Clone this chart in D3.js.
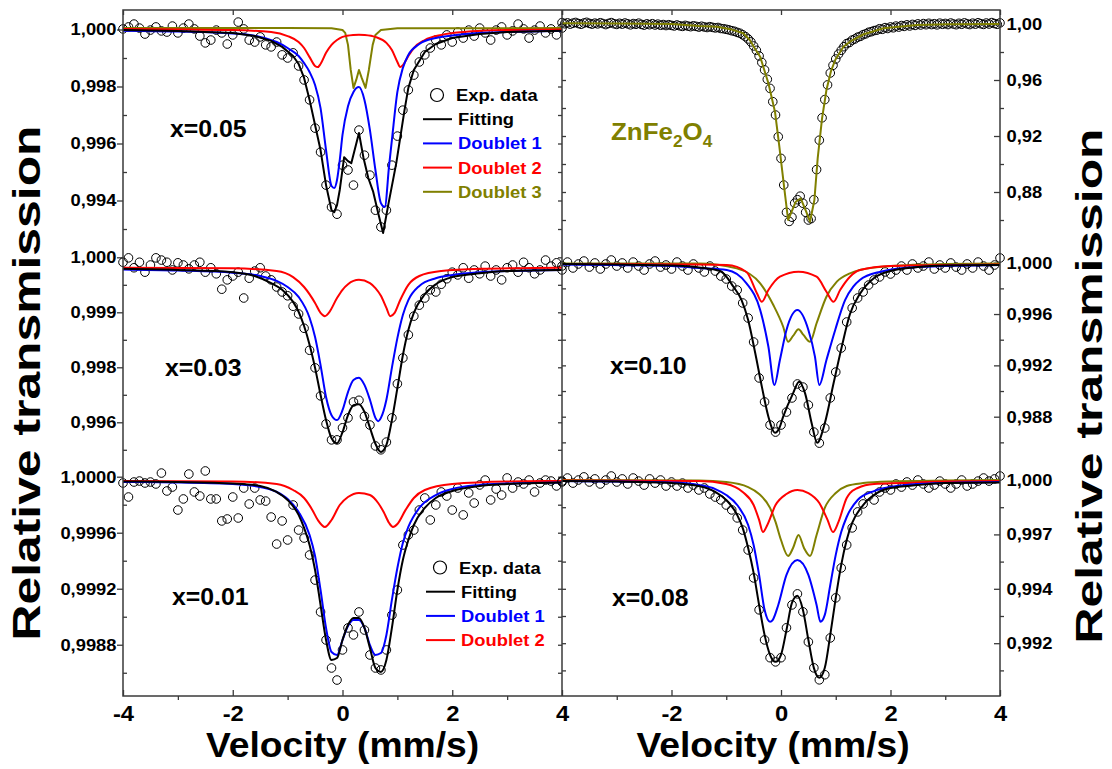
<!doctype html>
<html>
<head>
<meta charset="utf-8">
<title>Mossbauer spectra</title>
<script src="https://cdnjs.cloudflare.com/ajax/libs/d3/7.8.5/d3.min.js"></script>
<style>
  body { margin: 0; background: #fff; }
  text { font-family: "Liberation Sans", Arial, sans-serif; font-weight: bold; }
</style>
</head>
<body>
<div id="chart"></div>
<script>
// velocity channels of the measured points (mm/s)
const velocity = d3.range(-40, 41).map(i => i / 10);
const velocityFine = d3.range(-80, 81).map(i => i / 20); // ZnFe2O4 was measured on a finer grid

// ---- x = 0.05 (top left) ----
const x05Exp = [1.00002,1.00009,1.00019,1.00005,0.99984,0.99998,1.00009,0.99995,0.99991,1.00012,
  0.99988,1.00005,1.00019,1.00002,0.99977,0.99953,0.99963,0.99998,0.99988,0.99949,
  0.99981,1.00026,1.00002,0.99963,0.99956,0.99974,0.99946,0.99939,0.99956,0.99911,
  0.999,0.99918,0.99872,0.99823,0.99753,0.99654,0.9957,0.99454,0.99377,0.99352,
  0.99524,0.99507,0.99454,0.99647,0.99559,0.99489,0.99366,0.99307,0.99366,0.99524,
  0.99626,0.99717,0.99788,0.9984,0.99886,0.99911,0.99935,0.99963,0.99946,0.99981,
  0.99956,0.99991,0.9997,0.99998,0.99977,1.00005,0.99988,0.99963,0.99998,1.00009,
  0.99981,0.99995,1.00019,1.00002,0.9997,0.99998,1.00012,0.99988,1.00002,0.99981,
  1.00005];
const x05Fit = [[-4,0.99998],[-3,0.99995],[-2,0.99988],[-1.6,0.99977],[-1.3,0.9996],[-1.1,0.99939],[-0.9,0.99907],[-0.8,0.99879],[-0.7,0.9983],[-0.6,0.99753],[-0.5,0.99665],[-0.4,0.99577],[-0.3,0.99454],[-0.2,0.99366],[-0.15,0.99359],[-0.1,0.99384],[-0.05,0.99437],[0.03,0.99552],[0.1,0.99538],[0.16,0.99531],[0.3,0.99637],[0.38,0.99552],[0.47,0.99479],[0.56,0.9943],[0.65,0.99356],[0.74,0.99286],[0.84,0.99391],[0.98,0.99531],[1.13,0.99717],[1.2,0.99795],[1.3,0.99858],[1.5,0.99921],[1.7,0.99949],[2,0.9997],[2.5,0.99984],[3,0.99991],[4,0.99996]];
const x05D1 = [[-4,0.99996],[-3,0.99993],[-2,0.99986],[-1.5,0.99974],[-1.2,0.99956],[-1,0.99935],[-0.8,0.99907],[-0.7,0.99882],[-0.6,0.99851],[-0.5,0.99805],[-0.4,0.99724],[-0.3,0.99577],[-0.2,0.99451],[-0.15,0.99444],[-0.1,0.99472],[-0.05,0.99542],[0,0.9963],[0.1,0.99731],[0.2,0.99781],[0.3,0.99798],[0.4,0.99753],[0.5,0.99647],[0.6,0.99507],[0.7,0.99391],[0.77,0.99377],[0.85,0.99524],[0.9,0.99612],[1,0.99781],[1.1,0.99865],[1.2,0.99911],[1.4,0.99949],[1.7,0.9997],[2,0.99979],[2.5,0.99988],[3,0.99991],[4,0.99995]];
const x05D2 = [[-4,1.00002],[-2,0.99998],[-1.3,0.99991],[-1,0.99977],[-0.8,0.99956],[-0.7,0.99935],[-0.6,0.99903],[-0.5,0.99872],[-0.45,0.99868],[-0.4,0.99879],[-0.3,0.99918],[-0.2,0.99946],[-0.1,0.99963],[0,0.99974],[0.2,0.99981],[0.3,0.99982],[0.4,0.99981],[0.6,0.99974],[0.8,0.99953],[0.9,0.99928],[1,0.99886],[1.05,0.99868],[1.1,0.99875],[1.2,0.99907],[1.3,0.99935],[1.5,0.99963],[1.8,0.99981],[2.2,0.99991],[3,0.99998],[4,1.0]];
const x05D3 = [[-4,1.00005],[-1,1.00005],[-0.2,1.00004],[0,0.99998],[0.05,0.99988],[0.1,0.99946],[0.15,0.99858],[0.2,0.99795],[0.25,0.99823],[0.3,0.99858],[0.35,0.9983],[0.42,0.99795],[0.48,0.99858],[0.55,0.99946],[0.6,0.99981],[0.7,0.99998],[1,1.00004],[4,1.00005]];

// ---- x = 0.03 (middle left) ----
const x03Exp = [0.99991,0.99999,0.99981,0.99991,0.99973,0.99986,0.99999,0.99995,0.99991,0.99977,
  0.9999,0.99986,0.99979,0.99986,0.99991,0.99973,0.99981,0.9997,0.99942,0.99959,
  0.99966,0.99973,0.99926,0.99962,0.99975,0.99981,0.99966,0.99959,0.99946,0.99937,
  0.9993,0.99911,0.99897,0.99871,0.99831,0.99799,0.99748,0.99697,0.99668,0.99668,
  0.9969,0.99708,0.99737,0.9974,0.99711,0.99695,0.99657,0.9965,0.99664,0.99708,
  0.9977,0.99817,0.99859,0.99893,0.99913,0.99926,0.99941,0.99937,0.99951,0.99961,
  0.99973,0.99968,0.99981,0.99962,0.99977,0.9997,0.99984,0.99966,0.99977,0.99959,
  0.99981,0.99986,0.99973,0.99991,0.99981,0.9997,0.99977,0.99995,0.99984,0.9999,
  0.99977];
const x03Fit = [[-4,0.99979],[-3,0.99977],[-2,0.99973],[-1.6,0.99966],[-1.3,0.99953],[-1.1,0.99941],[-0.9,0.99919],[-0.8,0.99901],[-0.7,0.99875],[-0.6,0.99841],[-0.5,0.99799],[-0.4,0.9975],[-0.3,0.99704],[-0.2,0.99671],[-0.1,0.99662],[0,0.99682],[0.1,0.99713],[0.2,0.99731],[0.3,0.99733],[0.4,0.99719],[0.5,0.9969],[0.6,0.99661],[0.7,0.99646],[0.8,0.99659],[0.9,0.99704],[1,0.99762],[1.1,0.99822],[1.2,0.99868],[1.3,0.99899],[1.5,0.99933],[1.7,0.99951],[2,0.99964],[2.5,0.99971],[3,0.99975],[4,0.99977]];
const x03D1 = [[-4,0.99978],[-3,0.99976],[-2,0.99972],[-1.5,0.99966],[-1.2,0.99957],[-1,0.99946],[-0.8,0.99928],[-0.6,0.9989],[-0.5,0.99855],[-0.4,0.99804],[-0.3,0.99746],[-0.2,0.99713],[-0.1,0.99704],[0,0.99722],[0.1,0.99755],[0.2,0.99777],[0.3,0.99781],[0.4,0.99768],[0.5,0.99741],[0.6,0.99708],[0.65,0.99702],[0.7,0.99708],[0.8,0.99741],[0.9,0.99799],[1,0.99853],[1.1,0.99895],[1.2,0.99922],[1.4,0.99948],[1.7,0.99962],[2,0.99968],[2.5,0.99973],[3,0.99975],[4,0.99977]];
const x03D2 = [[-4,0.99981],[-2,0.9998],[-1.2,0.99975],[-0.9,0.99964],[-0.7,0.99946],[-0.5,0.99917],[-0.4,0.99899],[-0.32,0.99893],[-0.25,0.99899],[-0.1,0.99926],[0,0.99941],[0.1,0.99951],[0.3,0.99959],[0.5,0.99953],[0.6,0.99944],[0.7,0.9993],[0.8,0.99908],[0.87,0.99893],[0.95,0.99899],[1.05,0.99922],[1.2,0.9995],[1.4,0.99966],[1.8,0.99975],[2.5,0.99979],[4,0.99981]];

// ---- x = 0.01 (bottom left) ----
const x01Exp = [0.999955,0.999855,0.999962,0.999969,0.999955,0.999962,0.999948,1.000026,0.999898,0.999926,
  0.999762,0.999841,1.000019,0.999891,0.999862,1.000041,0.999841,0.999841,0.999684,0.999698,
  0.999855,0.999705,0.999919,0.999805,0.999919,0.999834,0.999826,0.999712,0.999519,0.999684,
  0.999548,0.999798,0.999619,0.999562,0.999441,0.999262,0.999034,0.998834,0.998634,0.998548,
  0.998763,0.99892,0.99887,0.999034,0.998905,0.998727,0.998634,0.99862,0.998763,0.999012,
  0.999191,0.999512,0.999584,0.999619,0.999762,0.999848,0.999691,0.999798,0.999891,0.999862,
  0.999762,0.999919,0.999727,0.999884,0.999812,0.999941,0.999976,0.999834,0.999912,0.999869,
  0.999991,0.999919,0.999962,0.999948,0.999976,0.999891,0.999955,0.999976,0.999969,0.999934,
  0.999962];
const x01Fit = [[-4,0.999966],[-3,0.999962],[-2,0.999951],[-1.5,0.999934],[-1.2,0.999891],[-1,0.999834],[-0.8,0.999727],[-0.7,0.999634],[-0.6,0.999512],[-0.5,0.999334],[-0.4,0.999084],[-0.3,0.998834],[-0.2,0.998691],[-0.1,0.998705],[0,0.998834],[0.1,0.998941],[0.2,0.998991],[0.3,0.998991],[0.4,0.99892],[0.5,0.998777],[0.6,0.998634],[0.7,0.998606],[0.8,0.998691],[0.9,0.99892],[1,0.999191],[1.1,0.999405],[1.2,0.999548],[1.3,0.999655],[1.5,0.999777],[1.7,0.999848],[2,0.999898],[2.5,0.999934],[3,0.999948],[4,0.999959]];
const x01D1 = [[-4,0.999962],[-3,0.999959],[-2,0.999948],[-1.5,0.999926],[-1.2,0.999891],[-1,0.999841],[-0.8,0.999748],[-0.6,0.999584],[-0.5,0.999434],[-0.4,0.999191],[-0.3,0.99892],[-0.2,0.998748],[-0.1,0.998727],[0,0.998834],[0.1,0.998934],[0.2,0.998977],[0.3,0.998977],[0.4,0.99892],[0.5,0.998798],[0.6,0.998727],[0.7,0.998741],[0.8,0.99887],[0.9,0.99912],[1,0.999348],[1.1,0.999527],[1.2,0.999641],[1.4,0.999777],[1.7,0.999869],[2,0.999912],[2.5,0.999941],[3,0.999951],[4,0.999959]];
const x01D2 = [[-4,0.999969],[-2,0.999966],[-1.2,0.999948],[-0.9,0.999905],[-0.7,0.999848],[-0.55,0.999763],[-0.45,0.999691],[-0.32,0.999641],[-0.2,0.999691],[-0.05,0.999798],[0.1,0.999855],[0.3,0.999884],[0.5,0.999869],[0.65,0.999812],[0.75,0.999748],[0.85,0.999669],[0.92,0.999641],[1,0.999662],[1.15,0.999763],[1.3,0.999848],[1.5,0.999905],[2,0.999948],[3,0.999966],[4,0.999969]];

// ---- ZnFe2O4 (top right), on velocityFine ----
const znfExp = [1.0010,1.0002,1.0008,0.9999,1.0006,1.0011,1.0003,0.9998,1.0007,1.0012,
  1.0004,0.9999,1.0006,1.0001,1.0009,1.0003,0.9996,1.0004,1.0010,1.0002,
  0.9997,1.0005,0.9999,1.0007,1.0001,0.9994,1.0003,0.9998,1.0006,0.9997,
  0.9992,1.0001,0.9995,1.0002,0.9993,0.9999,0.9991,0.9996,0.9989,0.9995,
  0.9990,0.9986,0.9993,0.9987,0.9983,0.9990,0.9985,0.9981,0.9987,0.9983,
  0.9978,0.9984,0.9979,0.9975,0.9981,0.9976,0.9972,0.9975,0.9968,0.9966,
  0.9962,0.9958,0.9952,0.9948,0.9940,0.9934,0.9923,0.9910,0.9893,0.9872,
  0.9843,0.9812,0.9772,0.9725,0.9672,0.9605,0.9540,0.9445,0.9350,0.9195,
  0.9040,0.8850,0.8655,0.8590,0.8620,0.8720,0.8745,0.8770,0.8720,0.8655,
  0.8600,0.8610,0.8745,0.8960,0.9170,0.9330,0.9460,0.9565,0.9650,0.9705,
  0.9750,0.9785,0.9812,0.9838,0.9860,0.9868,0.9885,0.9893,0.9906,0.9912,
  0.9924,0.9930,0.9941,0.9945,0.9953,0.9956,0.9966,0.9962,0.9974,0.9968,
  0.9979,0.9973,0.9985,0.9978,0.9989,0.9983,0.9994,0.9986,0.9997,0.9990,
  1.0001,0.9993,1.0003,0.9995,1.0005,0.9996,1.0002,0.9994,1.0006,0.9998,
  1.0004,0.9996,1.0007,1.0000,0.9995,1.0005,0.9998,1.0008,1.0001,0.9996,
  1.0006,0.9999,1.0009,1.0002,0.9997,1.0007,1.0000,1.0010,1.0003,0.9998,
  1.0008];
const znfFit = [[-4,1.0005],[-3,1.0003],[-2,1.0],[-1.5,0.9985],[-1.17,0.99807],[-0.9,0.996],[-0.69,0.99336],[-0.57,0.98857],[-0.48,0.98264],[-0.38,0.97664],[-0.23,0.95764],[-0.11,0.93736],[-0.03,0.91236],[0.06,0.88264],[0.13,0.86],[0.27,0.87307],[0.36,0.8755],[0.46,0.86593],[0.53,0.85879],[0.61,0.87429],[0.67,0.90407],[0.75,0.93264],[0.83,0.95286],[0.91,0.96593],[0.99,0.97429],[1.14,0.98379],[1.26,0.98736],[1.5,0.9925],[1.87,0.99693],[2.48,0.99929],[3,0.9998],[4,1.0]];

// ---- x = 0.10 (middle right) ----
const x10Exp = [0.99974,1.00005,0.99959,0.9999,1.00013,0.99966,0.99998,0.99951,0.9999,1.00021,
  0.99974,0.99998,0.99959,1.00005,0.99974,0.99943,0.9999,1.00013,0.99966,0.99982,
  0.99951,1.00005,0.99974,0.99943,0.9999,0.99959,0.99928,0.99974,0.99935,0.99896,
  0.99873,0.99818,0.99787,0.99686,0.99569,0.99382,0.99102,0.98915,0.98735,0.9868,
  0.98735,0.98836,0.98946,0.99055,0.99031,0.98891,0.9868,0.98594,0.98712,0.98946,
  0.99148,0.99335,0.99538,0.99647,0.99725,0.99772,0.99826,0.99865,0.99889,0.99928,
  0.99912,0.99943,0.99974,0.99943,0.9999,0.99959,0.99974,1.00005,0.99951,0.99982,
  0.99959,0.99998,0.99966,0.99943,0.9999,0.99959,1.00005,0.99974,0.99943,0.99982,
  1.00037];
const x10Fit = [[-4,0.9999],[-3,0.99986],[-2,0.99978],[-1.5,0.99963],[-1.11,0.99935],[-0.87,0.99813],[-0.72,0.99709],[-0.6,0.99553],[-0.47,0.99294],[-0.35,0.99034],[-0.23,0.988],[-0.11,0.98675],[-0.03,0.98712],[0.04,0.988],[0.22,0.98982],[0.33,0.99073],[0.44,0.98982],[0.56,0.98749],[0.66,0.98597],[0.8,0.98749],[0.96,0.9906],[1.11,0.99345],[1.26,0.996],[1.44,0.99756],[1.7,0.99881],[2,0.99935],[2.5,0.99966],[3,0.99978],[4,0.99982]];
const x10D1 = [[-4,0.99986],[-2,0.99974],[-1.5,0.99959],[-0.99,0.99943],[-0.63,0.99839],[-0.38,0.99631],[-0.23,0.99345],[-0.12,0.99047],[-0.02,0.99242],[0.1,0.99476],[0.3,0.99631],[0.5,0.99476],[0.62,0.99268],[0.7,0.99047],[0.83,0.99242],[0.99,0.99476],[1.17,0.99709],[1.32,0.99813],[1.44,0.99865],[1.8,0.99928],[2.5,0.99966],[4,0.99982]];
const x10D2 = [[-4,0.9999],[-1.5,0.99986],[-0.99,0.99982],[-0.63,0.99928],[-0.44,0.99762],[-0.35,0.99696],[-0.23,0.99787],[-0.02,0.99891],[0.32,0.9993],[0.65,0.99891],[0.83,0.99774],[0.96,0.99696],[1.08,0.99787],[1.26,0.99891],[1.44,0.99943],[2,0.99974],[4,0.99986]];
const x10D3 = [[-4,0.99994],[-1.5,0.99994],[-0.81,0.99956],[-0.38,0.99839],[-0.14,0.9967],[0.04,0.99501],[0.13,0.99384],[0.22,0.99429],[0.32,0.99481],[0.41,0.99437],[0.53,0.99384],[0.65,0.99528],[0.83,0.99735],[1.02,0.99852],[1.26,0.99917],[1.44,0.99943],[2,0.99974],[3,0.9999],[4,0.99994]];

// ---- x = 0.08 (bottom right) ----
const x08Exp = [0.99994,1.00011,0.99983,1.0,1.00017,0.99989,1.00006,0.99978,1.0,1.00022,
  0.99989,1.00006,0.99978,1.00011,0.99994,0.99972,1.00006,0.99983,1.0,0.99967,
  0.99989,0.99967,0.99983,0.99956,0.99972,0.99945,0.99956,0.99923,0.99906,0.9989,
  0.99862,0.99835,0.99791,0.99724,0.99614,0.9946,0.99284,0.99118,0.9902,0.98997,
  0.9902,0.99185,0.99311,0.99372,0.99273,0.99107,0.98964,0.98898,0.98926,0.99129,
  0.9935,0.99515,0.99642,0.99736,0.99824,0.99868,0.99912,0.9989,0.99934,0.99956,
  0.99945,0.99978,0.99961,0.99989,0.99972,1.0,0.99978,0.99956,0.99972,0.99994,
  0.99978,0.99956,0.99978,1.0,0.99967,0.99978,0.99994,1.00011,0.99994,1.00006,
  1.00022];
const x08Fit = [[-4,0.99994],[-3,0.99992],[-2,0.99983],[-1.5,0.99967],[-1.2,0.99934],[-1,0.9989],[-0.8,0.99807],[-0.7,0.99736],[-0.6,0.99625],[-0.5,0.99488],[-0.4,0.99311],[-0.3,0.99146],[-0.2,0.99036],[-0.1,0.98997],[0,0.99036],[0.1,0.99173],[0.2,0.99322],[0.3,0.99361],[0.4,0.99284],[0.5,0.99118],[0.6,0.98964],[0.7,0.98909],[0.8,0.98964],[0.9,0.99146],[1,0.9935],[1.1,0.99532],[1.2,0.99669],[1.3,0.99763],[1.5,0.99862],[1.75,0.99928],[2,0.99956],[2.5,0.99972],[3,0.99983],[4,0.99986]];
const x08D1 = [[-4,0.99994],[-2,0.99986],[-1.5,0.99972],[-1.2,0.9995],[-1,0.99917],[-0.8,0.99862],[-0.6,0.99752],[-0.5,0.99642],[-0.4,0.99477],[-0.3,0.99284],[-0.2,0.99218],[-0.15,0.99229],[-0.05,0.99311],[0.1,0.99477],[0.3,0.99559],[0.5,0.99477],[0.65,0.99311],[0.72,0.99218],[0.8,0.99256],[0.9,0.99421],[1,0.99587],[1.1,0.99713],[1.2,0.99796],[1.4,0.9989],[1.7,0.99939],[2,0.99961],[2.5,0.99978],[4,0.99989]];
const x08D2 = [[-4,0.99997],[-1.5,0.99994],[-1,0.99978],[-0.7,0.99934],[-0.5,0.99862],[-0.4,0.9978],[-0.33,0.99713],[-0.25,0.99752],[-0.1,0.99862],[0.1,0.99923],[0.3,0.99945],[0.5,0.99928],[0.7,0.99873],[0.85,0.9978],[0.95,0.99713],[1.05,0.99769],[1.2,0.99901],[1.26,0.99928],[1.4,0.99956],[1.7,0.99978],[2.2,0.99983],[3,0.99992],[4,0.99994]];
const x08D3 = [[-4,1.0],[-1.5,0.99997],[-1,0.99989],[-0.6,0.99961],[-0.4,0.99923],[-0.2,0.99846],[-0.1,0.99769],[0,0.99669],[0.13,0.99581],[0.22,0.99625],[0.32,0.99697],[0.42,0.99625],[0.53,0.99581],[0.65,0.99697],[0.8,0.99846],[1,0.99928],[1.2,0.99967],[1.5,0.99983],[2,0.99992],[3,0.99997],[4,1.0]];

// tick values and labels (as printed on the figure)
const x05Ticks = [1.000, 0.998, 0.996, 0.994], x05TickLabels = ['1,000','0,998','0,996','0,994'], x05Minor = [0.999, 0.997, 0.995, 0.993];
const x03Ticks = [1.000, 0.999, 0.998, 0.997], x03TickLabels = ['1,000','0,999','0,998','0,996'], x03Minor = [0.9995, 0.9985, 0.9975, 0.9965];
const x01Ticks = [1.0000, 0.9996, 0.9992, 0.9988], x01TickLabels = ['1,0000','0,9996','0,9992','0,9988'], x01Minor = [0.9998, 0.9994, 0.999, 0.9986];
const znfTicks = [1.00, 0.96, 0.92, 0.88], znfTickLabels = ['1,00','0,96','0,92','0,88'], znfMinor = [0.98, 0.94, 0.90, 0.86];
const x10Ticks = [1.000, 0.996, 0.992, 0.988], x10TickLabels = ['1,000','0,996','0,992','0,988'], x10Minor = [0.998, 0.994, 0.990, 0.986];
const x08Ticks = [1.000, 0.997, 0.994, 0.991], x08TickLabels = ['1,000','0,997','0,994','0,992'], x08Minor = [0.9985, 0.9955, 0.9925, 0.9895];
const velTicks = [-4, -2, 0, 2, 4], velMinor = [-3, -1, 1, 3];

const legendNames = ['Exp. data', 'Fitting', 'Doublet 1', 'Doublet 2', 'Doublet 3'];

// ---------------- drawing ----------------
const BLACK = '#000', BLUE = '#0000ff', RED = '#ff0000', OLIVE = '#808000', FRAME = '#3a3a3a';
const SX = 1.08; // glyphs in the figure are a bit wide

const svg = d3.select('#chart').append('svg').attr('width', 1112).attr('height', 769);

const colX = [[123, 562], [562, 1000]];
const rowY = [[10, 238.67], [238.67, 467.33], [467.33, 696]];

const panels = [
  { col: 0, row: 0, dom: [0.992661, 1.000684], ticks: x05Ticks, labels: x05TickLabels, minor: x05Minor,
    vel: velocity, exp: x05Exp, lines: [[x05D3, OLIVE, 1], [x05D2, RED], [x05D1, BLUE], [x05Fit, BLACK, 1]], name: 'x=0.05', nx: 170, ny: 136.5 },
  { col: 0, row: 1, dom: [0.996181, 1.000339], ticks: x03Ticks, labels: x03TickLabels, minor: x03Minor,
    vel: velocity, exp: x03Exp, lines: [[x03D2, RED], [x03D1, BLUE], [x03Fit, BLACK]], name: 'x=0.03', nx: 165, ny: 375.5 },
  { col: 0, row: 2, dom: [0.998434, 1.0000669], ticks: x01Ticks, labels: x01TickLabels, minor: x01Minor,
    vel: velocity, exp: x01Exp, lines: [[x01D2, RED], [x01D1, BLUE], [x01Fit, BLACK]], name: 'x=0.01', nx: 172, ny: 605 },
  { col: 1, row: 0, dom: [0.846667, 1.01], ticks: znfTicks, labels: znfTickLabels, minor: znfMinor,
    vel: velocityFine, exp: znfExp, lines: [[znfFit, OLIVE, 1]], name: null },
  { col: 1, row: 1, dom: [0.984054, 1.001873], ticks: x10Ticks, labels: x10TickLabels, minor: x10Minor,
    vel: velocity, exp: x10Exp, lines: [[x10D3, OLIVE], [x10D2, RED], [x10D1, BLUE], [x10Fit, BLACK]], name: 'x=0.10', nx: 610, ny: 374 },
  { col: 1, row: 2, dom: [0.988088, 1.000699], ticks: x08Ticks, labels: x08TickLabels, minor: x08Minor,
    vel: velocity, exp: x08Exp, lines: [[x08D3, OLIVE], [x08D2, RED], [x08D1, BLUE], [x08Fit, BLACK]], name: 'x=0.08', nx: 612, ny: 606 }
];

function stretchText(g, x, y, str, size, anchor, color) {
  return g.append('text')
    .attr('transform', `translate(${x},${y}) scale(${SX},1)`)
    .attr('font-size', size)
    .attr('text-anchor', anchor || 'start')
    .attr('fill', color || BLACK)
    .text(str);
}

function styleAxis(g, fontSize) {
  g.select('.domain').remove();
  g.selectAll('.tick line').attr('stroke', FRAME).attr('stroke-width', 1.3);
  g.selectAll('.tick text')
    .attr('font-size', fontSize)
    .attr('font-family', '"Liberation Sans", Arial, sans-serif')
    .attr('font-weight', 'bold')
    .attr('fill', BLACK)
    .attr('transform', `scale(${SX},1)`);
}

const xScales = colX.map(r => d3.scaleLinear().domain([-4, 4]).range(r));

panels.forEach(p => {
  const x = xScales[p.col];
  const y = d3.scaleLinear().domain(p.dom).range([rowY[p.row][1], rowY[p.row][0]]);
  const g = svg.append('g');

  // outer y axis: left column has labels on the left, right column on the right
  if (p.col === 0) {
    g.append('g').attr('transform', `translate(${colX[0][0]},0)`)
      .call(d3.axisLeft(y).tickValues(p.ticks).tickFormat((d, i) => p.labels[i]).tickSize(6).tickPadding(0))
      .call(a => styleAxis(a, 17));
    g.append('g').attr('transform', `translate(${colX[0][0]},0)`)
      .call(d3.axisLeft(y).tickValues(p.minor).tickFormat('').tickSize(-4))
      .call(a => styleAxis(a, 17));
    // mirrored ticks on the shared middle line
    g.append('g').attr('transform', `translate(${colX[0][1]},0)`)
      .call(d3.axisRight(y).tickValues(p.ticks.concat(p.minor)).tickFormat('').tickSize(-4))
      .call(a => styleAxis(a, 17));
  } else {
    g.append('g').attr('transform', `translate(${colX[1][1]},0)`)
      .call(d3.axisRight(y).tickValues(p.ticks).tickFormat((d, i) => p.labels[i]).tickSize(-6).tickPadding(6))
      .call(a => styleAxis(a, 17));
    g.append('g').attr('transform', `translate(${colX[1][1]},0)`)
      .call(d3.axisRight(y).tickValues(p.minor).tickFormat('').tickSize(4))
      .call(a => styleAxis(a, 17));
    g.append('g').attr('transform', `translate(${colX[1][0]},0)`)
      .call(d3.axisLeft(y).tickValues(p.ticks.concat(p.minor)).tickFormat('').tickSize(-4))
      .call(a => styleAxis(a, 17));
  }

  // measured points
  g.append('g').selectAll('circle')
    .data(p.exp)
    .join('circle')
    .attr('cx', (d, i) => x(p.vel[i]))
    .attr('cy', d => y(d))
    .attr('r', 4.3)
    .attr('fill', 'none')
    .attr('stroke', BLACK)
    .attr('stroke-width', 1);

  // fitted sub-spectra and total fit
  p.lines.forEach(([data, color, jagged]) => {
    const line = d3.line()
      .x(d => x(d[0]))
      .y(d => y(d[1]))
      .curve(jagged ? d3.curveLinear : d3.curveMonotoneX);
    g.append('path')
      .datum(data)
      .attr('d', line)
      .attr('fill', 'none')
      .attr('stroke', color)
      .attr('stroke-width', 2)
      .attr('stroke-linejoin', 'round');
  });

  if (p.name) stretchText(g, p.nx, p.ny, p.name, 23);
});

// bottom and top axes for each column
xScales.forEach((x, c) => {
  const vals = c === 0 ? velTicks : velTicks.slice(1);
  svg.append('g').attr('transform', 'translate(0,696)')
    .call(d3.axisBottom(x).tickValues(vals).tickFormat(d3.format('d')).tickSize(-6).tickPadding(9))
    .call(a => styleAxis(a, 22));
  svg.append('g').attr('transform', 'translate(0,696)')
    .call(d3.axisBottom(x).tickValues(velMinor).tickFormat('').tickSize(4))
    .call(a => styleAxis(a, 22));
  svg.append('g').attr('transform', 'translate(0,10)')
    .call(d3.axisTop(x).tickValues(velTicks).tickFormat('').tickSize(-5))
    .call(a => styleAxis(a, 22));
  stretchText(svg, (colX[c][0] + colX[c][1]) / 2 + (c === 0 ? 0 : -8), 757, 'Velocity (mm/s)', 34.5, 'middle');
});
// plain hyphen for negative numbers, like the figure
svg.selectAll('.tick text').each(function () {
  const t = d3.select(this);
  t.text(t.text().replace('\u2212', '-'));
});

// frame
svg.append('rect').attr('x', 123).attr('y', 10).attr('width', 877).attr('height', 686)
  .attr('fill', 'none').attr('stroke', FRAME).attr('stroke-width', 1.5);
svg.append('line').attr('x1', 562).attr('x2', 562).attr('y1', 10).attr('y2', 696)
  .attr('stroke', FRAME).attr('stroke-width', 1.5);

// y titles
[[40, 383, 38], [1102, 386, 36]].forEach(([tx, ty, fs]) => {
  svg.append('text')
    .attr('transform', `translate(${tx},${ty}) rotate(-90)`)
    .attr('text-anchor', 'middle')
    .attr('font-size', fs)
    .attr('textLength', 515)
    .attr('lengthAdjust', 'spacingAndGlyphs')
    .text('Relative transmission');
});

// ZnFe2O4 label
const zn = svg.append('text')
  .attr('transform', `translate(611,140) scale(${SX},1)`)
  .attr('font-size', 24).attr('fill', OLIVE);
zn.append('tspan').text('ZnFe');
zn.append('tspan').attr('font-size', 16).attr('dy', 7).text('2');
zn.append('tspan').attr('dy', -7).text('O');
zn.append('tspan').attr('font-size', 16).attr('dy', 7).text('4');

// legends
const legendColors = [BLACK, BLACK, BLUE, RED, OLIVE];
function legend(x0, y0, n) {
  const lg = svg.append('g');
  legendNames.slice(0, n).forEach((name, i) => {
    const yy = y0 + i * 24.2;
    if (i === 0) {
      lg.append('circle').attr('cx', x0 + 14).attr('cy', yy).attr('r', 6.5)
        .attr('fill', 'none').attr('stroke', BLACK).attr('stroke-width', 1.2);
    } else {
      lg.append('line').attr('x1', x0).attr('x2', x0 + 29).attr('y1', yy).attr('y2', yy)
        .attr('stroke', legendColors[i]).attr('stroke-width', 2);
    }
    stretchText(lg, x0 + (i === 0 ? 33 : 35), yy + 6, name, 17, 'start', legendColors[i]);
  });
}
legend(423, 95, 5);
legend(426, 567.5, 4);
</script>
</body>
</html>
